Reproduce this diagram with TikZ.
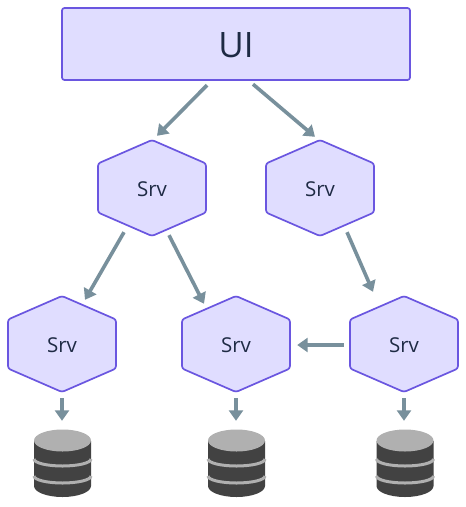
\documentclass[tikz,border=0pt]{standalone}
\usepackage{fontspec}
\setmainfont{Open Sans}
\usetikzlibrary{arrows.meta}
\definecolor{boxfill}{HTML}{E0DDFF}
\definecolor{boxline}{HTML}{6A56E0}
\definecolor{inktext}{HTML}{1E2A44}
\definecolor{conn}{HTML}{78909C}
\definecolor{dbdark}{HTML}{424242}
\definecolor{dblight}{HTML}{B0B0B0}
\tikzset{
  outline/.style={draw=boxline,fill=boxfill,line width=1.7pt,rounded corners=2.5pt},
  label/.style={text=inktext,inner sep=0pt,minimum width=108pt,minimum height=96pt,font=\fontsize{20.5}{22}\selectfont},
  dbnode/.style={inner sep=0pt,minimum width=57pt,minimum height=68pt},
  link/.style={draw=conn,line width=3.6pt,-{Triangle[length=10.5pt,width=14pt]}},
}
\newcommand{\hexnode}[3]{%
  \path[outline] (#2,#3-48) -- (#2+54,#3-24.5) -- (#2+54,#3+24.5) -- (#2,#3+48) -- (#2-54,#3+24.5) -- (#2-54,#3-24.5) -- cycle;
  \node[label] (#1) at (#2,#3+1) {Srv};
}
\newcommand{\dbnode}[2]{%
  \fill[dbdark] (#2-28.5,441) -- (#2-28.5,486) arc[start angle=180,end angle=0,x radius=28.5,y radius=11] -- (#2+28.5,441) -- cycle;
  \fill[dblight] (#2,440.5) ellipse[x radius=28.5,y radius=11];
  \draw[dblight,line width=3pt] (#2-28.5,459) arc[start angle=180,end angle=0,x radius=28.5,y radius=7];
  \draw[dblight,line width=3pt] (#2-28.5,476) arc[start angle=180,end angle=0,x radius=28.5,y radius=7];
  \node[dbnode] (#1) at (#2,463) {};
}
\begin{document}
\begin{tikzpicture}[x=1pt,y=-1pt]
\useasboundingbox[fill=white] (0,0) rectangle (466,507);
\path[outline] (62,8) rectangle (410,80);
\node[text=inktext,inner sep=0pt,minimum width=348pt,minimum height=72pt,font=\fontsize{35}{40}\selectfont] (ui) at (236,45) {UI};
\hexnode{a}{152}{188}
\hexnode{b}{320}{188}
\hexnode{c}{62}{344}
\hexnode{d}{236}{344}
\hexnode{e}{404}{344}
\dbnode{dba}{62.5}
\dbnode{dbb}{236.5}
\dbnode{dbc}{405}
\draw[link] ([xshift=-29pt,yshift=-4pt]ui.south) -- ([xshift=5pt,yshift=5pt]a.north);
\draw[link] ([xshift=17pt,yshift=-3pt]ui.south) -- ([xshift=-5pt,yshift=4pt]b.north);
\draw[link] ([xshift=-28pt,yshift=5pt]a.south) -- ([xshift=23pt,yshift=-3pt]c.north);
\draw[link] ([xshift=17pt,yshift=2pt]a.south) -- ([xshift=-32pt,yshift=-7pt]d.north);
\draw[link] ([xshift=27pt,yshift=5pt]b.south) -- ([xshift=-31pt,yshift=5pt]e.north);
\draw[link] ([xshift=-6pt]e.west) -- ([xshift=7pt]d.east);
\draw[link] ([xshift=0pt,yshift=-5pt]c.south) -- ([xshift=-0.5pt,yshift=8pt]dba.north);
\draw[link] ([xshift=0pt,yshift=-5pt]d.south) -- ([xshift=-0.5pt,yshift=8pt]dbb.north);
\draw[link] ([xshift=0pt,yshift=-5pt]e.south) -- ([xshift=-1pt,yshift=8pt]dbc.north);
\end{tikzpicture}
\end{document}
